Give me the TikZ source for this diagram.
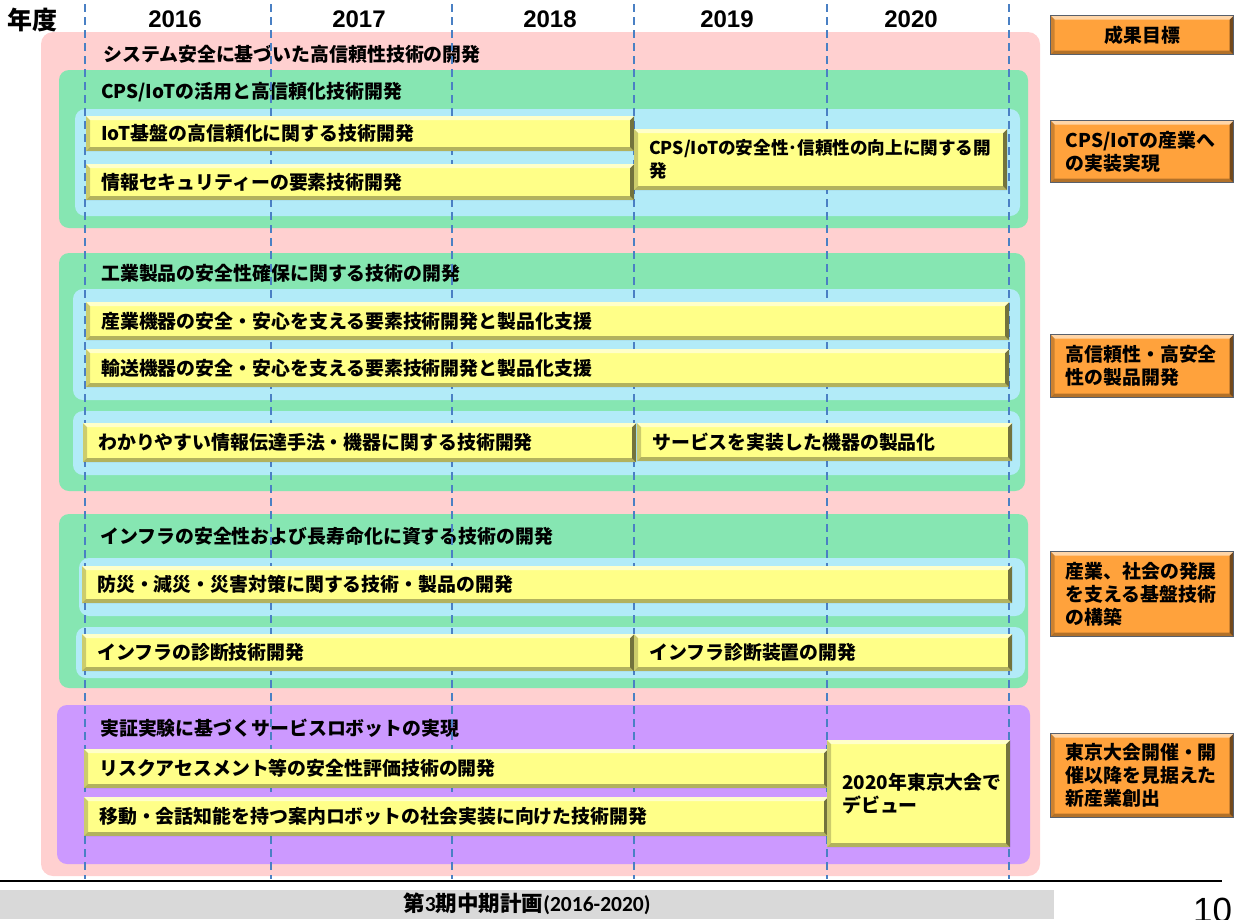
\documentclass[tikz,border=0pt]{standalone}
\usepackage{fontspec}
\setmainfont{Noto Sans CJK JP}
\newfontfamily\latinfont{Liberation Sans}
\newfontfamily\carlfont{Carlito}
\definecolor{pinkbg}{HTML}{FFD0D0}
\definecolor{greenbg}{HTML}{86E6B2}
\definecolor{bluebg}{HTML}{B2EBF8}
\definecolor{purplebg}{HTML}{CC99FF}
\definecolor{ybarc}{HTML}{FFFF88}
\definecolor{oboxc}{HTML}{FFA23C}
\definecolor{dashc}{HTML}{4A80C4}
\definecolor{footgray}{HTML}{D9D9D9}
\definecolor{oborder}{HTML}{58606C}
\tikzset{
  jpfont/.style={font=\bfseries\fontsize{18.9}{23}\selectfont},
  region/.style={rounded corners=10pt},
  yeardash/.style={draw=dashc, line width=1.6pt, dash pattern=on 8pt off 5pt},
  bevel/.style={path picture={
     \coordinate (pbsw) at (path picture bounding box.south west);
     \coordinate (pbne) at (path picture bounding box.north east);
     \coordinate (pbse) at (pbne |- pbsw);
     \coordinate (pbnw) at (pbsw |- pbne);
     \fill[white, opacity=0.55] (pbnw) -- (pbne) -- ([xshift=-#1,yshift=-#1]pbne) -- ([xshift=#1,yshift=-#1]pbnw) -- cycle;
     \fill[black, opacity=0.3] (pbsw) -- (pbse) -- ([xshift=-#1,yshift=#1]pbse) -- ([xshift=#1,yshift=#1]pbsw) -- cycle;
     \fill[black, opacity=0.55] (pbne) -- (pbse) -- ([xshift=-#1,yshift=#1]pbse) -- ([xshift=-#1,yshift=-#1]pbne) -- cycle;
     \fill[black, opacity=0.2] (pbnw) -- (pbsw) -- ([xshift=#1,yshift=#1]pbsw) -- ([xshift=#1,yshift=-#1]pbnw) -- cycle;
  }},
  barbox/.style={jpfont, fill=ybarc, bevel=4pt, anchor=north west, inner xsep=15pt, inner ysep=0pt, align=left},
  goalbox/.style={jpfont, fill=oboxc, draw=oborder, line width=1.3pt, bevel=4pt, anchor=north west, inner xsep=15pt, inner ysep=0pt, align=left},
  titletext/.style={jpfont, anchor=west, inner sep=0pt},
  yeartext/.style={font=\latinfont\bfseries\fontsize{24}{24}\selectfont, inner sep=0pt},
}
% name, x, y, w, h, text
\newcommand\ybarnode[6]{%
  \pgfmathsetmacro\barw{#4-30}%
  \node[barbox, minimum width=#4pt, minimum height=#5pt, text width=\barw pt] (#1) at (#2,#3) {#6};%
}
\newcommand\goalnode[6]{%
  \pgfmathsetmacro\goalw{#4-30}%
  \node[goalbox, minimum width=#4pt, minimum height=#5pt, text width=\goalw pt] (#1) at (#2,#3) {#6};%
}
\begin{document}
\begin{tikzpicture}[x=1pt, y=-1pt]
\useasboundingbox (0,0) rectangle (1243,919);
% regions
\fill[pinkbg, rounded corners=12pt] (41,32) rectangle (1040,876);
\fill[greenbg, region] (59,70) rectangle (1028,228);
\fill[bluebg, region] (75,109) rectangle (1020,216);
\fill[greenbg, region] (59,253) rectangle (1025,491);
\fill[bluebg, region] (73,289) rectangle (1020,400);
\fill[bluebg, region] (73,411) rectangle (1020,475);
\fill[greenbg, region] (59,514) rectangle (1028,688);
\fill[bluebg, region] (79,558) rectangle (1025,616);
\fill[bluebg, region] (76,627) rectangle (1025,678);
\fill[purplebg, region] (57,705) rectangle (1030,864);
% header
\node[font=\bfseries\fontsize{25}{25}\selectfont, inner sep=0pt] (nendo) at (33,20) {年度};
\node[yeartext] (y2016) at (175,19) {2016};
\node[yeartext] (y2017) at (359,19) {2017};
\node[yeartext] (y2018) at (550,19) {2018};
\node[yeartext] (y2019) at (727,19) {2019};
\node[yeartext] (y2020) at (911,19) {2020};
% titles
\node[titletext] (t0) at (103,54) {システム安全に基づいた高信頼性技術の開発};
\node[titletext] (t1) at (101,92) {CPS/IoTの活用と高信頼化技術開発};
\node[titletext] (t2) at (101,273) {工業製品の安全性確保に関する技術の開発};
\node[titletext] (t3) at (100,536) {インフラの安全性および長寿命化に資する技術の開発};
\node[titletext] (t4) at (100,728) {実証実験に基づくサービスロボットの実現};
% dashed year lines
\foreach \xx in {85,271,452,634,827,1009}
  \draw[yeardash] (\xx,4) -- (\xx,879);
% bars
\ybarnode{b1}{86}{116}{548}{35}{IoT基盤の高信頼化に関する技術開発}
\ybarnode{b2}{86}{164}{548}{36}{情報セキュリティーの要素技術開発}
\ybarnode{b3}{634}{129}{373}{61}{\fontsize{17.6}{21}\selectfont CPS/IoTの安全性･信頼性の向上に関する開\\発}
\ybarnode{b4}{86}{302}{923}{38}{産業機器の安全・安心を支える要素技術開発と製品化支援}
\ybarnode{b5}{86}{349}{923}{38}{輸送機器の安全・安心を支える要素技術開発と製品化支援}
\ybarnode{b6}{83}{423}{553}{39}{わかりやすい情報伝達手法・機器に関する技術開発}
\ybarnode{b7}{637}{423}{375}{38}{サービスを実装した機器の製品化}
\ybarnode{b8}{82}{566}{930}{37}{防災・減災・災害対策に関する技術・製品の開発}
\ybarnode{b9}{82}{634}{552}{37}{インフラの診断技術開発}
\ybarnode{b10}{634}{634}{378}{37}{インフラ診断装置の開発}
\ybarnode{b11}{84}{749}{744}{39}{リスクアセスメント等の安全性評価技術の開発}
\ybarnode{b12}{84}{797}{744}{39}{移動・会話知能を持つ案内ロボットの社会実装に向けた技術開発}
\ybarnode{b13}{827}{740}{183}{107}{2020年東京大会で\\デビュー}
% goals
\node[goalbox, align=center, minimum width=183pt, minimum height=39pt, inner xsep=0pt] (o0) at (1050,15) {成果目標};
\goalnode{o1}{1050}{120}{183}{62}{CPS/IoTの産業へ\\の実装実現}
\goalnode{o2}{1050}{334}{183}{63}{高信頼性・高安全\\性の製品開発}
\goalnode{o3}{1050}{551}{183}{85}{産業、社会の発展\\を支える基盤技術\\の構築}
\goalnode{o4}{1050}{733}{183}{84}{東京大会開催・開\\催以降を見据えた\\新産業創出}
% footer
\draw[black, line width=2pt] (0,880.5) -- (1222,880.5);
\fill[footgray] (0,890) rectangle (1054,919);
\node[inner sep=0pt] (foot) at (527,904) {\bfseries\fontsize{21.5}{22}\selectfont 第{\carlfont\fontsize{21.5}{22}\selectfont 3}期中期計画{\carlfont\fontsize{21.5}{22}\selectfont (2016-2020)}};
\node[anchor=north west, inner sep=0pt, font=\latinfont\fontsize{35}{35}\selectfont] (pgno) at (1193,898) {10};
\end{tikzpicture}
\end{document}
